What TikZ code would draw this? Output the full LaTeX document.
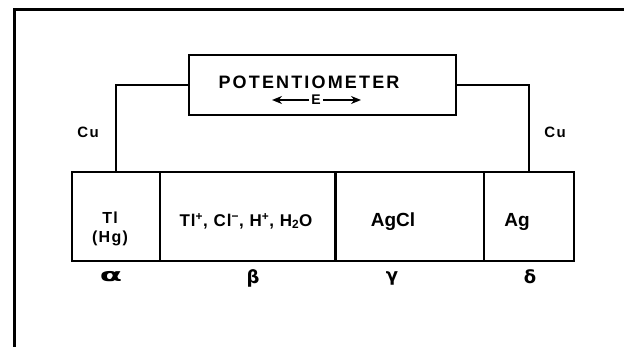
\documentclass[tikz,border=0pt]{standalone}
\usepackage{fontspec}
\setmainfont{Liberation Sans}
\newfontfamily\greekfont{DejaVu Sans}
\usetikzlibrary{arrows.meta}
\tikzset{
  wire/.style={line width=2.6pt},
  cellbox/.style={draw, line width=2.6pt, rectangle, inner sep=0pt, minimum height=89pt},
  lbl/.style={font=\bfseries\fontsize{16}{19}\selectfont\addfontfeature{LetterSpace=8}, inner sep=0pt},
  culbl/.style={font=\bfseries\fontsize{15}{16}\selectfont\addfontfeature{LetterSpace=10}, inner sep=0pt},
  biglbl/.style={font=\bfseries\fontsize{19}{20}\selectfont, inner sep=0pt},
  ionlbl/.style={font=\bfseries\fontsize{17}{18}\selectfont\addfontfeature{LetterSpace=6}, inner sep=0pt},
  greek/.style={font=\greekfont\bfseries\fontsize{18}{18}\selectfont, inner sep=0pt},
  earrow/.style={line width=2.4pt, -{Stealth[length=10pt,width=8pt]}},
}
\begin{document}
\begin{tikzpicture}[x=1pt,y=-1pt]
\useasboundingbox (0,0) rectangle (624,347);
% frame
\draw[line width=3pt] (14,347) -- (14,10) -- (624,10);
% potentiometer
\node[draw, line width=2.6pt, rectangle, minimum width=267pt, minimum height=60pt, inner sep=0pt] (pot) at (322.5,85) {};
\node[font=\bfseries\fontsize{18}{18}\selectfont\addfontfeature{LetterSpace=12}, inner sep=0pt] (potlbl) at (309,82) {POTENTIOMETER};
\node[font=\bfseries\fontsize{14}{14}\selectfont, inner sep=2pt] (E) at (316,100) {E};
\coordinate (El) at (272,100);
\coordinate (Er) at (361,100);
\draw[earrow] (E.west) -- (El);
\draw[earrow] (E.east) -- (Er);
% cells
\node[cellbox, minimum width=88pt] (ca) at (116,216.5) {};
\node[cellbox, minimum width=175.5pt] (cb) at (247.75,216.5) {};
\node[cellbox, minimum width=148.5pt] (cc) at (409.75,216.5) {};
\node[cellbox, minimum width=90pt] (cd) at (529,216.5) {};
% wires
\draw[wire] (pot.west) -| (ca.north);
\draw[wire] (pot.east) -| (cd.north);
% labels
\node[culbl] (cul) at (88,132) {Cu};
\node[culbl] (cur) at (555,132) {Cu};
\node[lbl, align=center] (la) at (110,229) {Tl\\(Hg)};
\node[ionlbl] (lb) at (246,221) {Tl\textsuperscript{+}, Cl\textsuperscript{\textminus}, H\textsuperscript{+}, H\textsubscript{2}O};
\node[biglbl] (lc) at (393,222) {AgCl};
\node[biglbl] (ld) at (517,222) {Ag};
\node[greek] (ga) at (111,277) {\scalebox{1.8}[1]{α}};
\node[greek] (gb) at (253,278) {β};
\node[greek] (gc) at (392,278) {γ};
\node[greek] (gd) at (530,277) {δ};
\end{tikzpicture}
\end{document}
